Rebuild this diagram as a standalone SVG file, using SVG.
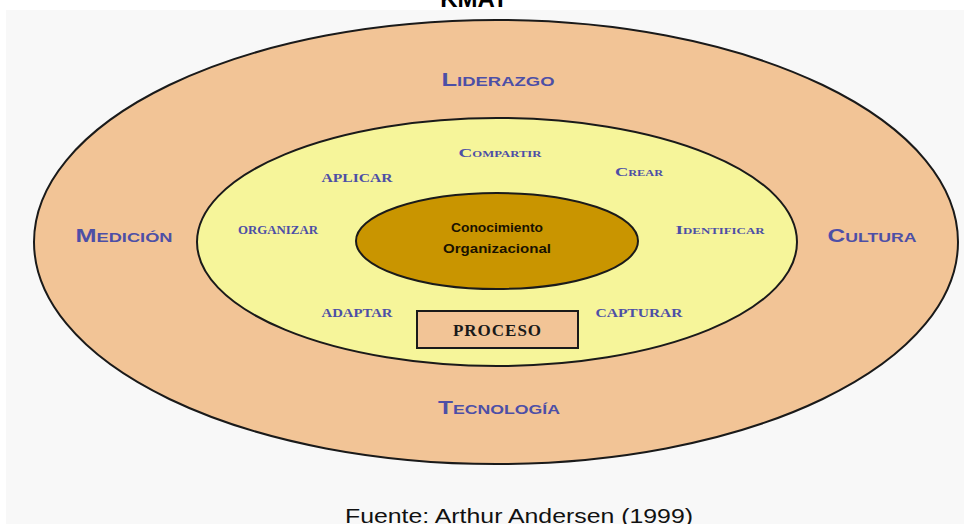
<svg xmlns="http://www.w3.org/2000/svg" width="964" height="524" viewBox="0 0 964 524">
<style>
.ring{stroke:#1a1a1a;stroke-width:2}
.outer-lbl{font-family:"Liberation Sans",Arial,sans-serif;font-weight:bold;font-variant:small-caps;font-size:18px;fill:#4d4fa6;text-anchor:middle}
.inner-lbl{font-family:"Liberation Serif","Times New Roman",serif;font-weight:bold;font-variant:small-caps;font-size:12px;fill:#4d4fa6;text-anchor:middle}
.core-lbl{font-family:"Liberation Sans",Arial,sans-serif;font-weight:bold;font-size:12px;fill:#1a1200;text-anchor:middle}
</style>
<rect x="0" y="0" width="964" height="524" fill="#ffffff"/>
<rect x="6" y="10" width="958" height="514" fill="#f8f8f8"/>
<text x="474" y="7" font-family="Liberation Sans,Arial,sans-serif" font-weight="bold" font-size="24" text-anchor="middle" fill="#000">KMAT</text>

<g id="outer">
<ellipse class="ring" cx="496" cy="242" rx="462" ry="222" fill="#f2c496"/>
<text class="outer-lbl" x="498" y="86" textLength="113" lengthAdjust="spacingAndGlyphs">Liderazgo</text>
<text class="outer-lbl" x="124" y="242" textLength="97" lengthAdjust="spacingAndGlyphs">Medición</text>
<text class="outer-lbl" x="872" y="242" textLength="89" lengthAdjust="spacingAndGlyphs">Cultura</text>
<text class="outer-lbl" x="499" y="414" textLength="122" lengthAdjust="spacingAndGlyphs">Tecnología</text>
</g>

<g id="middle">
<ellipse class="ring" cx="497" cy="242" rx="300" ry="124" fill="#f6f59a"/>
<text class="inner-lbl" x="500" y="157" textLength="83" lengthAdjust="spacingAndGlyphs">Compartir</text>
<text class="inner-lbl" x="357" y="182" textLength="71" lengthAdjust="spacingAndGlyphs">APLICAR</text>
<text class="inner-lbl" x="639" y="176" textLength="48" lengthAdjust="spacingAndGlyphs">Crear</text>
<text class="inner-lbl" x="278" y="234" textLength="80" lengthAdjust="spacingAndGlyphs">ORGANIZAR</text>
<text class="inner-lbl" x="720" y="234" textLength="89" lengthAdjust="spacingAndGlyphs">Identificar</text>
<text class="inner-lbl" x="357" y="317" textLength="71" lengthAdjust="spacingAndGlyphs">ADAPTAR</text>
<text class="inner-lbl" x="639" y="317" textLength="87" lengthAdjust="spacingAndGlyphs">CAPTURAR</text>
</g>

<g id="core">
<ellipse class="ring" cx="497" cy="241" rx="141" ry="48" fill="#c99500"/>
<text class="core-lbl" x="497" y="232" textLength="92" lengthAdjust="spacingAndGlyphs">Conocimiento</text>
<text class="core-lbl" x="497" y="253" textLength="108" lengthAdjust="spacingAndGlyphs">Organizacional</text>
</g>

<g id="proceso">
<rect x="417" y="311" width="161" height="37" fill="#f2c496" stroke="#1a1a1a" stroke-width="2"/>
<text x="497.5" y="336" font-family="Liberation Serif,'Times New Roman',serif" font-weight="bold" font-size="17" text-anchor="middle" fill="#1a1a1a" letter-spacing="1">PROCESO</text>
</g>

<text x="519" y="523" font-family="Liberation Sans,Arial,sans-serif" font-size="21" text-anchor="middle" fill="#111" textLength="348" lengthAdjust="spacingAndGlyphs">Fuente: Arthur Andersen (1999)</text>
</svg>
